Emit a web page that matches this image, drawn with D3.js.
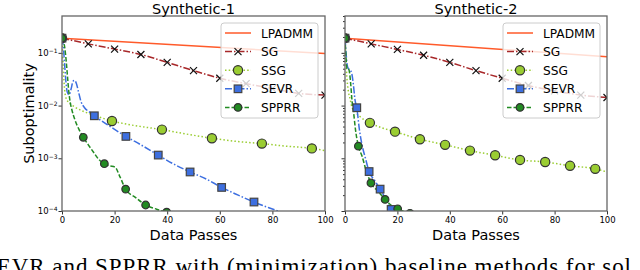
<!DOCTYPE html>
<html>
<head>
<meta charset="utf-8">
<script src="https://cdn.jsdelivr.net/npm/d3@7"></script>
<style>
  body { margin: 0; background: #fff; }
  svg { display: block; }
  text { font-family: "DejaVu Sans", sans-serif; }
</style>
</head>
<body>
<div id="chart"></div>
<script>
// ---- data ----
const titles = ["Synthetic-1", "Synthetic-2"];
const xTicks = [0, 20, 40, 60, 80, 100];
const yTicks = [1e-4, 1e-3, 1e-2, 1e-1];
const yTickLabels = ["\u22124", "\u22123", "\u22122", "\u22121"];

// Synthetic-1
const lpadmm1X = [0, 100];
const lpadmm1 = [0.19, 0.097];
const sg1X = [0, 10, 20, 30, 40, 50, 60, 70, 80, 90, 100];
const sg1 = [0.19, 0.148, 0.118, 0.093, 0.066, 0.046, 0.033, 0.026, 0.021, 0.017, 0.0158];
const ssg1X = [0, 0.5, 1, 1.5, 3, 5, 8, 12, 19, 25, 30, 38, 47, 57, 66, 76, 85, 95, 100];
const ssg1 = [0.19, 0.05, 0.02, 0.014, 0.011, 0.0093, 0.0078, 0.0066, 0.0051, 0.0044, 0.004, 0.0035, 0.0029, 0.0024, 0.0021, 0.0019, 0.0017, 0.00154, 0.0014];
const ssg1Marks = [0, 19, 38, 57, 76, 95];
const sevr1X = [0, 0.5, 1, 1.5, 2, 2.7, 3.5, 4.2, 4.8, 5.5, 6.3, 7.2, 8.5, 10.5, 12.3, 18, 24.3, 30, 36.6, 42, 48.7, 55, 60.7, 67, 73, 82, 90];
const sevr1 = [0.19, 0.13, 0.06, 0.028, 0.018, 0.016, 0.021, 0.029, 0.03, 0.026, 0.018, 0.012, 0.0092, 0.0075, 0.0064, 0.0041, 0.0026, 0.0018, 0.00115, 0.0008, 0.00055, 0.0004, 0.00028, 0.0002, 0.000148, 0.0001, 0.00007];
const sevr1Marks = [0, 12.3, 24.3, 36.6, 48.7, 60.7, 73];
const spprr1X = [0, 1, 1.6, 2.1, 2.6, 3.2, 3.7, 5, 6.5, 8.1, 10, 12, 14, 16.1, 18, 20.2, 22, 24.2, 28, 31.8, 36, 39.8, 45];
const spprr1 = [0.19, 0.13, 0.07, 0.035, 0.018, 0.011, 0.0085, 0.0052, 0.0035, 0.0025, 0.0018, 0.0013, 0.00095, 0.00079, 0.00072, 0.00068, 0.00045, 0.00026, 0.00018, 0.00013, 0.000108, 0.000095, 0.00008];
const spprr1Marks = [0, 8.1, 16.1, 24.2, 31.8, 39.8];

// Synthetic-2
const lpadmm2X = [0, 100];
const lpadmm2 = [0.19, 0.084];
const sg2X = [0, 10, 20, 30, 40, 50, 60, 70, 80, 90, 100];
const sg2 = [0.19, 0.148, 0.116, 0.09, 0.066, 0.046, 0.033, 0.024, 0.019, 0.0158, 0.0142];
const ssg2X = [0, 0.3, 0.7, 1.2, 2, 2.6, 4, 5.7, 9.5, 14, 19.1, 28.6, 38.2, 47.7, 57.3, 66.8, 76.4, 85.9, 95.5, 100];
const ssg2 = [0.19, 0.08, 0.035, 0.02, 0.013, 0.0095, 0.0075, 0.0062, 0.0047, 0.0038, 0.0032, 0.0023, 0.0018, 0.0014, 0.00114, 0.00093, 0.00085, 0.00072, 0.00063, 0.00055];
const ssg2Marks = [0, 9.5, 19.1, 28.6, 38.2, 47.7, 57.3, 66.8, 76.4, 85.9, 95.5];
const sevr2X = [0, 0.4, 0.8, 1.3, 2, 2.6, 3.2, 3.8, 4.5, 5.5, 6.4, 7.8, 9.2, 11.3, 13.4, 15.5, 17.6, 19.5];
const sevr2 = [0.19, 0.1, 0.06, 0.05, 0.047, 0.04, 0.025, 0.013, 0.0091, 0.0035, 0.0019, 0.001, 0.00056, 0.00038, 0.00026, 0.00017, 0.000107, 0.00008];
const sevr2Marks = [0, 4.5, 9.2, 13.4, 17.6];
const spprr2X = [0, 0.4, 0.8, 1.3, 1.8, 2.2, 2.7, 3.2, 4, 5.1, 6.5, 8, 9.9, 12.5, 15.3, 17.5, 20.1, 24.8];
const spprr2 = [0.19, 0.08, 0.05, 0.05, 0.04, 0.025, 0.012, 0.008, 0.0035, 0.0017, 0.0011, 0.0006, 0.00034, 0.00024, 0.000166, 0.00013, 0.00011, 0.00009];
const spprr2Marks = [0, 5.1, 9.9, 15.3, 20.1, 24.8];

const names = ["LPADMM", "SG", "SSG", "SEVR", "SPPRR"];

// ---- styles ----
const styles = {
  LPADMM: { color: "#ff5a2a", dash: null, marker: null },
  SG:     { color: "#a8282a", dash: "7,2,1.5,2", marker: "x" },
  SSG:    { color: "#9acd32", dash: "1.5,2.2", marker: "bigcircle" },
  SEVR:   { color: "#3d6fe0", dash: "7,2,1.5,2", marker: "square" },
  SPPRR:  { color: "#228b22", dash: "4.5,2", marker: "circle" }
};

const panels = [
  { title: titles[0], left: 62, right: 325, showY: true, minor: false,
    series: [
      { name: "LPADMM", x: lpadmm1X, y: lpadmm1, marks: [] },
      { name: "SG", x: sg1X, y: sg1, marks: sg1X },
      { name: "SSG", x: ssg1X, y: ssg1, marks: ssg1Marks },
      { name: "SEVR", x: sevr1X, y: sevr1, marks: sevr1Marks },
      { name: "SPPRR", x: spprr1X, y: spprr1, marks: spprr1Marks }
    ] },
  { title: titles[1], left: 345, right: 607, showY: false, minor: true,
    series: [
      { name: "LPADMM", x: lpadmm2X, y: lpadmm2, marks: [] },
      { name: "SG", x: sg2X, y: sg2, marks: sg2X },
      { name: "SSG", x: ssg2X, y: ssg2, marks: ssg2Marks },
      { name: "SEVR", x: sevr2X, y: sevr2, marks: sevr2Marks },
      { name: "SPPRR", x: spprr2X, y: spprr2, marks: spprr2Marks }
    ] }
];

const W = 640, H = 270, plotTop = 16, plotBottom = 211;

const svg = d3.select("#chart").append("svg")
  .attr("width", W).attr("height", H);

function drawMarker(sel, type, color) {
  if (type === "x") {
    sel.append("path").attr("d", "M-3.5,-3.5L3.5,3.5M-3.5,3.5L3.5,-3.5")
      .attr("stroke", "#111").attr("stroke-width", 1.2).attr("fill", "none");
  } else if (type === "bigcircle") {
    sel.append("circle").attr("r", 4.6).attr("fill", color)
      .attr("stroke", "#333").attr("stroke-width", 1.2);
  } else if (type === "square") {
    sel.append("rect").attr("x", -3.8).attr("y", -3.8).attr("width", 7.6).attr("height", 7.6)
      .attr("fill", color).attr("stroke", "#444").attr("stroke-width", 1.2);
  } else if (type === "circle") {
    sel.append("circle").attr("r", 3.8).attr("fill", color)
      .attr("stroke", "#333").attr("stroke-width", 1.2);
  }
}

panels.forEach((p, pi) => {
  const x = d3.scaleLinear().domain([0, 100]).range([p.left, p.right]);
  const y = d3.scaleLog().domain([1e-4, 0.5]).range([plotBottom, plotTop]);
  const g = svg.append("g");

  const clipId = "clip" + pi;
  svg.append("clipPath").attr("id", clipId).append("rect")
    .attr("x", p.left).attr("y", plotTop).attr("width", p.right - p.left).attr("height", plotBottom - plotTop);

  const plot = g.append("g").attr("clip-path", `url(#${clipId})`);
  const line = d3.line().x(d => x(d[0])).y(d => y(d[1])).curve(d3.curveMonotoneX);

  p.series.forEach(s => {
    const st = styles[s.name];
    const pts = s.x.map((v, i) => [v, s.y[i]]);
    plot.append("path").datum(pts)
      .attr("d", line)
      .attr("fill", "none")
      .attr("stroke", st.color)
      .attr("stroke-width", 1.5)
      .attr("stroke-dasharray", st.dash);
  });
  p.series.forEach(s => {
    const st = styles[s.name];
    const pts = s.x.map((v, i) => [v, s.y[i]]).filter(d => s.marks.includes(d[0]));
    pts.forEach(d => {
      const m = plot.append("g").attr("transform", `translate(${x(d[0])},${y(d[1])})`);
      drawMarker(m, st.marker, st.color);
    });
  });

  // axes
  const xAxis = d3.axisBottom(x).tickValues(xTicks).tickSize(3.5).tickPadding(2);
  const gx = g.append("g").attr("transform", `translate(0,${plotBottom})`).call(xAxis);
  gx.select(".domain").remove();
  gx.selectAll("text").attr("font-size", 8.5).attr("fill", "#000");
  gx.selectAll("line").attr("stroke", "#333");

  const yAxis = d3.axisLeft(y).tickValues(yTicks).tickSize(3.5).tickPadding(3).tickFormat("");
  const gy = g.append("g").attr("transform", `translate(${p.left},0)`).call(yAxis);
  gy.select(".domain").remove();
  gy.selectAll("line").attr("stroke", "#333");
  if (p.showY) {
    gy.selectAll(".tick").each(function(d, i) {
      const t = d3.select(this).append("text")
        .attr("x", -4.5).attr("dy", "0.3em").attr("text-anchor", "end")
        .attr("font-size", 8.5).attr("fill", "#000");
      t.append("tspan").text("10");
      t.append("tspan").attr("dy", "-0.45em").attr("font-size", 6).text(yTickLabels[i]);
    });
  }
  if (p.minor) {
    const minors = [];
    [1e-4, 1e-3, 1e-2, 1e-1].forEach(dec => {
      for (let k = 2; k <= 9; k++) if (dec * k <= 0.5) minors.push(dec * k);
    });
    g.append("g").attr("transform", `translate(${p.left},0)`)
      .call(d3.axisLeft(y).tickValues(minors).tickSize(2).tickFormat(""))
      .call(a => a.select(".domain").remove())
      .selectAll("line").attr("stroke", "#333");
  }

  // frame
  g.append("rect").attr("x", p.left).attr("y", plotTop)
    .attr("width", p.right - p.left).attr("height", plotBottom - plotTop)
    .attr("fill", "none").attr("stroke", "#666").attr("stroke-width", 1.3);

  // title and x label
  g.append("text").attr("x", (p.left + p.right) / 2).attr("y", 13.5)
    .attr("text-anchor", "middle").attr("font-size", 14.5).text(p.title);
  g.append("text").attr("x", (p.left + p.right) / 2).attr("y", 239.5)
    .attr("text-anchor", "middle").attr("font-size", 14.5).text("Data Passes");

  // legend
  const lx = p.right - 104, ly = 23;
  const lg = g.append("g");
  lg.append("rect").attr("x", lx).attr("y", ly).attr("width", 97).attr("height", 95)
    .attr("rx", 3).attr("fill", "#fff").attr("fill-opacity", 0.8)
    .attr("stroke", "#ccc").attr("stroke-width", 1);
  names.forEach((n, i) => {
    const st = styles[n];
    const ry = ly + 10 + i * 18.6;
    lg.append("line").attr("x1", lx + 4).attr("x2", lx + 30).attr("y1", ry).attr("y2", ry)
      .attr("stroke", st.color).attr("stroke-width", 1.5).attr("stroke-dasharray", st.dash);
    if (st.marker) {
      const m = lg.append("g").attr("transform", `translate(${lx + 17},${ry})`);
      drawMarker(m, st.marker, st.color);
    }
    lg.append("text").attr("x", lx + 40).attr("y", ry + 4.5).attr("font-size", 12.2).text(n);
  });
});

// y label
svg.append("text")
  .attr("transform", `translate(34,${(plotTop + plotBottom) / 2}) rotate(-90)`)
  .attr("text-anchor", "middle").attr("font-size", 14.5).text("Suboptimality");

// caption fragment below the figure (cut by the page edge, as in the source)
svg.append("text").attr("x", -17).attr("y", 274)
  .style("font-family", "'Liberation Serif', serif").attr("font-size", 23)
  .attr("letter-spacing", 0.95)
  .text("SEVR and SPPRR with (minimization) baseline methods for sol");
</script>
</body>
</html>
